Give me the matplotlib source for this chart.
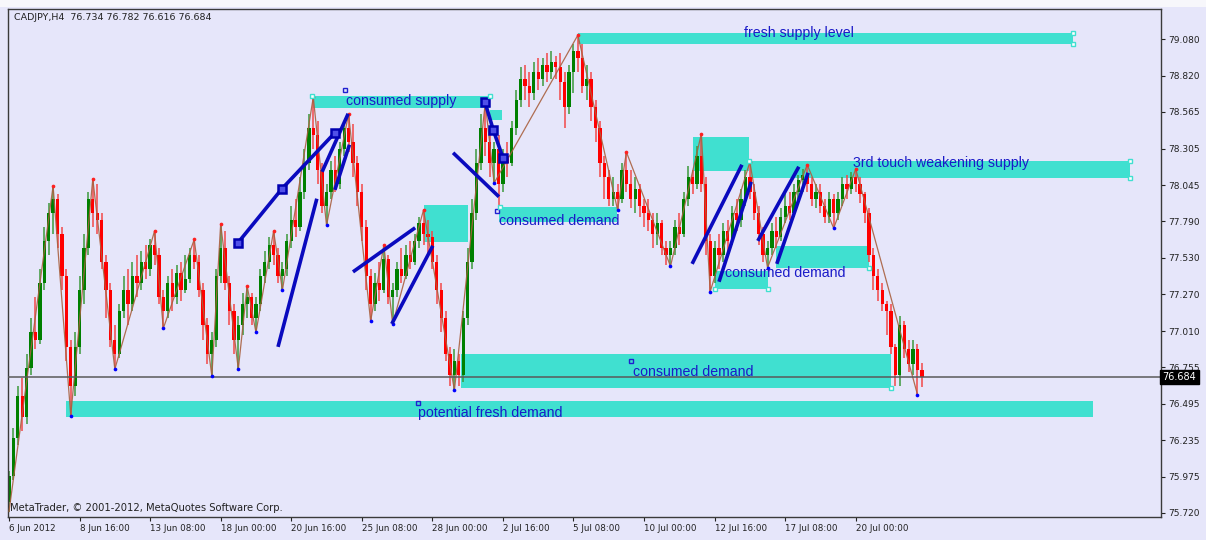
import matplotlib
matplotlib.use("Agg")
import matplotlib.pyplot as plt
from matplotlib.patches import Rectangle
import numpy as np

# ---------------- data ----------------
symbol_title = "CADJPY,H4  76.734 76.782 76.616 76.684"
copyright_text = "MetaTrader, \u00a9 2001-2012, MetaQuotes Software Corp."

first_open = 75.80
close = [
    75.98, 76.25, 76.55, 76.40, 76.75, 77.00, 76.95, 77.35, 77.65, 77.85,
    77.95, 77.70, 77.40, 76.90, 76.62, 76.90, 77.30, 77.60, 77.95, 77.85,
    77.80, 77.50, 77.30, 76.95, 76.85, 77.15, 77.30, 77.20, 77.40, 77.35,
    77.50, 77.45, 77.62, 77.55, 77.25, 77.15, 77.35, 77.25, 77.42, 77.30,
    77.38, 77.55, 77.50, 77.30, 77.05, 76.85, 76.95, 77.40, 77.60, 77.35,
    77.15, 76.95, 77.05, 77.20, 77.25, 77.10, 77.20, 77.40, 77.50, 77.62,
    77.55, 77.40, 77.45, 77.65, 77.80, 77.75, 78.00, 78.20, 78.45, 78.40,
    78.15, 77.90, 78.00, 78.15, 78.05, 78.30, 78.45, 78.35, 78.20, 78.00,
    77.75, 77.40, 77.20, 77.35, 77.30, 77.52, 77.25, 77.30, 77.45, 77.40,
    77.55, 77.50, 77.65, 77.78, 77.70, 77.68, 77.50, 77.30, 77.10, 76.85,
    76.70, 76.80, 76.70, 77.10, 77.50, 77.85, 78.20, 78.45, 78.35, 78.20,
    78.30, 78.05, 78.25, 78.20, 78.45, 78.65, 78.80, 78.75, 78.70, 78.85,
    78.80, 78.90, 78.85, 78.92, 78.88, 78.78, 78.60, 78.85, 79.00, 78.95,
    78.75, 78.80, 78.60, 78.45, 78.20, 78.10, 77.95, 78.00, 77.95, 78.15,
    78.05, 77.95, 78.02, 77.90, 77.85, 77.80, 77.70, 77.78, 77.60, 77.55,
    77.60, 77.75, 77.70, 77.95, 78.10, 78.05, 78.25, 78.05, 77.65, 77.40,
    77.60, 77.55, 77.72, 77.65, 77.85, 77.80, 77.95, 78.10, 78.00, 77.85,
    77.70, 77.55, 77.60, 77.72, 77.68, 77.82, 77.90, 77.85, 78.00, 78.08,
    78.12, 78.05, 77.95, 78.00, 77.90, 77.82, 77.95, 77.85, 77.95, 78.05,
    78.02, 78.10, 78.05, 77.98, 77.85, 77.55, 77.40, 77.30, 77.20, 77.15,
    76.90, 76.70, 77.05, 76.88, 76.78, 76.88, 76.734, 76.684,
]
high = [
    76.02, 76.32, 76.62, 76.68, 76.85, 77.10, 77.25, 77.45, 77.75, 77.92,
    78.04, 77.98, 77.75, 77.45, 76.95, 77.00, 77.40, 77.70, 78.00, 78.09,
    78.05, 77.85, 77.55, 77.35, 77.05, 77.20, 77.40, 77.45, 77.50, 77.55,
    77.58, 77.62, 77.66, 77.72, 77.60, 77.30, 77.40, 77.45, 77.48, 77.50,
    77.55, 77.60, 77.66, 77.55, 77.35, 77.10, 77.00, 77.45, 77.77, 77.72,
    77.40, 77.20, 77.12, 77.28, 77.33, 77.28, 77.25, 77.45, 77.58, 77.68,
    77.72, 77.60, 77.50, 77.70, 77.90, 77.95, 78.10, 78.30, 78.55, 78.67,
    78.50, 78.20, 78.05, 78.22, 78.25, 78.35, 78.50, 78.55, 78.48, 78.25,
    78.05, 77.80, 77.45, 77.42, 77.50, 77.62, 77.55, 77.35, 77.50, 77.60,
    77.62, 77.65, 77.70, 77.82, 77.87, 77.80, 77.72, 77.55, 77.35, 77.15,
    76.90, 76.88, 76.85, 77.15, 77.60, 77.95, 78.30, 78.55, 78.63, 78.45,
    78.35, 78.40, 78.30, 78.35, 78.50, 78.72, 78.88, 78.90, 78.85, 78.92,
    78.95, 78.95, 78.98, 79.00, 78.96, 78.98, 78.85, 78.90, 79.05, 79.11,
    79.05, 78.90, 78.85, 78.65, 78.50, 78.25, 78.15, 78.10, 78.05, 78.20,
    78.28, 78.15, 78.10, 78.05, 77.95, 77.95, 77.85, 77.85, 77.80, 77.65,
    77.65, 77.80, 77.85, 78.00, 78.18, 78.15, 78.32, 78.41, 78.10, 77.70,
    77.65, 77.70, 77.78, 77.80, 77.90, 77.95, 78.02, 78.15, 78.21, 78.05,
    77.90, 77.75, 77.65, 77.78, 77.82, 77.88, 77.98, 78.00, 78.05, 78.12,
    78.16, 78.19, 78.10, 78.05, 78.05, 77.95, 78.00, 77.98, 78.00, 78.10,
    78.12, 78.14, 78.16, 78.10, 78.00, 77.88, 77.60, 77.45, 77.35, 77.22,
    77.20, 76.92, 77.12, 77.08, 76.95, 76.95, 76.92, 76.782,
]
low = [
    75.73, 75.95, 76.20, 76.30, 76.35, 76.70, 76.88, 76.92, 77.30, 77.55,
    77.70, 77.60, 77.30, 76.80, 76.41, 76.55, 76.85, 77.20, 77.55, 77.75,
    77.70, 77.45, 77.10, 76.90, 76.74, 76.82, 77.10, 77.05, 77.15, 77.25,
    77.30, 77.38, 77.40, 77.48, 77.20, 77.03, 77.10, 77.15, 77.20, 77.22,
    77.28, 77.35, 77.45, 77.25, 76.95, 76.78, 76.69, 76.90, 77.35, 77.30,
    77.05, 76.85, 76.74, 76.98, 77.10, 77.05, 77.00, 77.15, 77.35, 77.45,
    77.48, 77.35, 77.30, 77.40, 77.60, 77.68, 77.72, 77.95, 78.15, 78.30,
    78.05, 77.85, 77.76, 77.95, 78.00, 78.02, 78.25, 78.28, 78.10, 77.90,
    77.65, 77.30, 77.08, 77.15, 77.22, 77.28, 77.20, 77.06, 77.25, 77.35,
    77.38, 77.45, 77.48, 77.60, 77.62, 77.55, 77.45, 77.20, 77.00, 76.80,
    76.62, 76.59, 76.62, 76.65, 77.05, 77.45, 77.80, 78.15, 78.25, 78.10,
    78.06, 77.90, 78.00, 78.10, 78.18, 78.40, 78.60, 78.65, 78.60, 78.65,
    78.72, 78.75, 78.78, 78.80, 78.80, 78.65, 78.45, 78.55, 78.70, 78.85,
    78.70, 78.65, 78.50, 78.35, 78.10, 77.95, 77.90, 77.90, 77.87, 77.92,
    78.00, 77.88, 77.85, 77.82, 77.75, 77.72, 77.60, 77.62, 77.55, 77.48,
    77.47, 77.55, 77.62, 77.68, 77.90, 77.98, 78.02, 78.00, 77.55, 77.29,
    77.35, 77.45, 77.50, 77.58, 77.62, 77.72, 77.75, 77.90, 77.95, 77.80,
    77.62, 77.50, 77.46, 77.55, 77.60, 77.65, 77.78, 77.80, 77.82, 77.95,
    78.00, 78.00, 77.90, 77.88, 77.85, 77.78, 77.78, 77.74, 77.80, 77.90,
    77.95, 77.98, 78.00, 77.92, 77.78, 77.50, 77.30, 77.22, 77.15, 76.98,
    76.85, 76.62, 76.62, 76.82, 76.72, 76.70, 76.56, 76.616,
]

# zigzag swing bars (alternating low / high)
zigzag_bars = [0, 10, 14, 19, 24, 33, 35, 42, 46, 48, 52, 54, 56, 60, 62, 69,
               72, 77, 82, 85, 87, 94, 101, 108, 110, 129, 138, 140, 150, 157,
               159, 168, 172, 181, 187, 192, 206]
zigzag_kind = ["L", "H"] * 18 + ["L"]

date_tick_bars = [0, 16, 32, 48, 64, 80, 96, 112, 128, 144, 160, 176, 192]
date_tick_labels = ["6 Jun 2012", "8 Jun 16:00", "13 Jun 08:00", "18 Jun 00:00",
                    "20 Jun 16:00", "25 Jun 08:00", "28 Jun 00:00", "2 Jul 16:00",
                    "5 Jul 08:00", "10 Jul 00:00", "12 Jul 16:00", "17 Jul 08:00",
                    "20 Jul 00:00"]
price_ticks = [79.080, 78.820, 78.565, 78.305, 78.045, 77.790, 77.530,
               77.270, 77.010, 76.755, 76.495, 76.235, 75.975, 75.720]
last_price = 76.684

# supply / demand zones: (bar start, bar end, price low, price high)
zone_x0 = [129, 69, 109, 94, 111, 102.5, 13, 155, 168, 160, 174]
zone_x1 = [241.3, 109, 111.8, 104.1, 137.9, 200, 245.8, 167.8, 254.2, 172.1, 195]
zone_lo = [79.05, 78.594, 78.51, 77.643, 77.787, 76.607, 76.401, 78.147, 78.098, 77.309, 77.459]
zone_hi = [79.127, 78.68, 78.58, 77.906, 77.892, 76.848, 76.515, 78.389, 78.218, 77.437, 77.615]

# zone labels
label_text = ["fresh supply level", "consumed supply", "consumed demand",
              "consumed demand", "consumed demand", "3rd touch weakening supply",
              "potential fresh demand"]
label_bar = [166.7, 76.4, 111.1, 141.5, 162.4, 191.4, 92.7]
label_price = [79.125, 78.644, 77.79, 76.72, 77.42, 78.20, 76.43]

# hand-drawn trend lines (bar, price) pairs
trend_x = [[51.9, 61.9, 73.9], [61.0, 69.8], [71.0, 76.9], [73.9, 77.2],
           [78.0, 92.1], [86.8, 96.1], [100.7, 111.1], [107.9, 109.8, 112.0],
           [154.9, 166.2], [161.0, 168.3], [169.8, 179.1], [174.1, 181.2]]
trend_y = [[77.636, 78.02, 78.417], [76.898, 77.949], [78.14, 78.552],
           [78.012, 78.332], [77.43, 77.743], [77.061, 77.615],
           [78.275, 77.963], [78.637, 78.438, 78.24], [77.487, 78.19],
           [77.36, 78.069], [77.65, 78.176], [77.487, 78.133]]
trend_markers = [True, False, False, False, False, False, False, True,
                 False, False, False, False]

# small anchor squares of the text objects
anchor_x = [76.2, 110.7, 92.7, 141.0]
anchor_y = [78.72, 77.862, 76.50, 76.80]
# corner handles of the zones
corner_x = [241.3, 241.3, 68.7, 109.1, 254.2, 254.2, 200.0, 172.1, 160.1, 195.0, 111.3, 167.8]
corner_y = [79.127, 79.05, 78.68, 78.68, 78.218, 78.098, 76.607, 77.309, 77.309, 77.459, 77.892, 78.218]

# ---------------- figure ----------------
W, H = 1206, 540
BG = "#E6E6FA"
fig = plt.figure(figsize=(W / 100, H / 100), dpi=100, facecolor=BG)
fig.patches.append(Rectangle((0, 1 - 7 / H), 1, 7 / H, transform=fig.transFigure,
                             facecolor="#F7F7FB", edgecolor="none"))
L, R, T, B = 8, 1161, 9, 517
ax = fig.add_axes([L / W, (H - B) / H, (R - L) / W, (B - T) / H])
ax.set_facecolor(BG)

n = len(close)
x = np.arange(n)
c = np.array(close)
o = np.array([first_open] + close[:-1])
hi = np.array(high)
lo = np.array(low)
up = c >= o
body_col = np.where(up, "#008000", "#FF0000")
wick_col = np.where(up, "#3C9A3C", "#F24848")

px_per_bar = 4.41
ax.set_xlim((L - 9) / px_per_bar, (R - 9) / px_per_bar)
ax.set_ylim(75.691, 79.295)

# zones
for x0, x1, y0, y1 in zip(zone_x0, zone_x1, zone_lo, zone_hi):
    ax.add_patch(Rectangle((x0, y0), x1 - x0, y1 - y0, facecolor="#40E0D0",
                           edgecolor="none", zorder=1))

# candles
ax.vlines(x, lo, hi, colors=wick_col, lw=1.1, zorder=2)
ax.bar(x, np.maximum(np.abs(c - o), 0.006), bottom=np.minimum(o, c), width=0.74,
       color=body_col, lw=0, zorder=2.5)

# zigzag
zz_y = [lo[b] if k == "L" else hi[b] for b, k in zip(zigzag_bars, zigzag_kind)]
ax.plot(zigzag_bars, zz_y, color="#A9603F", lw=0.9, zorder=3, alpha=0.9)
tops = [(b, y) for b, y, k in zip(zigzag_bars, zz_y, zigzag_kind) if k == "H"]
bots = [(b, y) for b, y, k in zip(zigzag_bars, zz_y, zigzag_kind) if k == "L"][1:]
ax.scatter([t[0] for t in tops], [t[1] for t in tops], s=7, color="#FF2020", zorder=4, lw=0)
ax.scatter([t[0] for t in bots], [t[1] for t in bots], s=7, color="#0000FF", zorder=4, lw=0)

# current price line
ax.axhline(last_price, color="#5A5A5A", lw=1.1, zorder=3.5)

# trend lines
for tx, ty, mk in zip(trend_x, trend_y, trend_markers):
    ax.plot(tx, ty, color="#0A0ABE", lw=2.6, solid_capstyle="butt", zorder=5)
    if mk:
        ax.plot(tx, ty, ls="none", marker="s", ms=5.5, mfc="#5050E8", mec="#0000B0",
                mew=1.8, zorder=5.5)

# anchors
ax.plot(anchor_x, anchor_y, ls="none", marker="s", ms=3, mfc="none", mec="#2020D0",
        mew=1, zorder=6)
ax.plot(corner_x, corner_y, ls="none", marker="s", ms=3.5, mfc="white", mec="#40E0D0",
        mew=1, zorder=6)

# labels
for t, bx, py in zip(label_text, label_bar, label_price):
    ax.text(bx, py, t, color="#1A1AC8", fontsize=10.2, family="Liberation Sans",
            ha="left", va="center", zorder=7)

# axes styling
for s in ax.spines.values():
    s.set_color("#3A3A3A")
    s.set_linewidth(1.0)
ax.yaxis.tick_right()
ax.set_yticks(price_ticks)
ax.set_yticklabels([f"{p:.3f}" for p in price_ticks])
ax.set_xticks(date_tick_bars)
ax.set_xticklabels(date_tick_labels)
ax.tick_params(axis="y", direction="out", length=3, width=0.8, pad=2,
               labelsize=6.5, colors="#222222")
ax.tick_params(axis="x", direction="out", length=3, width=0.8, pad=2,
               labelsize=6.3, colors="#222222")
for lbl in ax.get_xticklabels():
    lbl.set_ha("left")

# current price box
ax.annotate(f"{last_price:.3f}", xy=(1.0, last_price),
            xycoords=("axes fraction", "data"), xytext=(1, 0),
            textcoords="offset points", ha="left", va="center",
            fontsize=7.0, color="white", zorder=10, annotation_clip=False,
            bbox=dict(boxstyle="square,pad=0.25", fc="black", ec="black"))

fig.text(14 / W, 1 - 17 / H, symbol_title, fontsize=6.8, color="#222222",
         ha="left", va="center")
fig.text(10 / W, 1 - 508 / H, copyright_text, fontsize=7.2, color="#222222",
         ha="left", va="center")

fig.savefig("out.png", dpi=100, facecolor=BG)
